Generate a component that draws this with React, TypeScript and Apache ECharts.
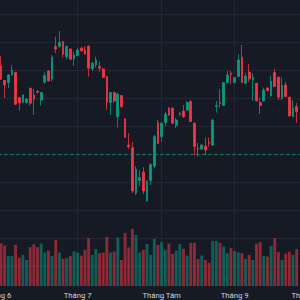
import React, { useEffect, useRef } from "react";
import * as echarts from "echarts";

// time slots on the category axis (slot 4 is the first visible session)
const slotCount = 92;
const firstCandleSlot = 4;
const monthSlots = [3, 25, 48, 68, 88];
const monthNames = ["Tháng 6", "Tháng 7", "Tháng Tám", "Tháng 9", "Tháng 10"];

// [open, close, low, high]
const candles: number[][] = [
  [240.2, 233.4, 233.0, 245.0],
  [232.7, 230.5, 224.0, 233.0],
  [231.7, 235.5, 228.9, 236.0],
  [235.5, 238.0, 235.2, 240.5],
  [236.9, 220.9, 220.5, 237.0],
  [224.2, 221.7, 217.7, 224.5],
  [221.7, 225.5, 221.5, 226.0],
  [221.7, 223.5, 221.2, 224.0],
  [228.9, 221.4, 220.2, 229.0],
  [225.5, 223.5, 215.5, 228.5],
  [227.3, 226.8, 226.5, 228.0],
  [223.0, 226.7, 220.2, 227.0],
  [231.9, 235.2, 231.0, 236.9],
  [237.5, 232.5, 232.3, 238.0],
  [233.5, 244.4, 232.2, 245.5],
  [249.7, 248.5, 246.4, 254.7],
  [249.9, 251.7, 249.0, 257.5],
  [252.2, 246.0, 244.2, 252.5],
  [244.7, 249.7, 243.5, 250.3],
  [248.5, 243.4, 243.0, 249.0],
  [243.5, 245.5, 240.0, 247.2],
  [245.2, 248.0, 245.0, 249.2],
  [248.9, 247.5, 247.2, 249.7],
  [248.0, 246.0, 245.5, 250.0],
  [250.0, 238.9, 234.7, 250.0],
  [238.5, 241.4, 237.5, 242.0],
  [240.5, 243.0, 239.2, 244.7],
  [239.7, 238.9, 237.2, 242.2],
  [238.5, 234.4, 234.0, 239.0],
  [234.7, 222.0, 218.0, 235.0],
  [221.7, 226.7, 215.5, 227.0],
  [226.7, 222.5, 221.5, 227.0],
  [214.7, 225.9, 209.2, 226.5],
  [225.2, 219.7, 219.0, 225.5],
  [213.5, 204.4, 204.0, 214.0],
  [200.5, 199.7, 198.5, 206.4],
  [199.2, 177.5, 176.5, 202.0],
  [176.4, 188.5, 175.5, 190.0],
  [182.7, 184.2, 180.0, 188.0],
  [187.0, 177.5, 176.0, 189.4],
  [172.5, 182.2, 172.3, 183.0],
  [182.7, 190.7, 180.5, 191.5],
  [190.0, 204.7, 188.9, 205.5],
  [211.7, 201.4, 201.0, 213.0],
  [204.7, 211.4, 202.2, 212.0],
  [211.7, 216.0, 210.0, 217.0],
  [218.9, 215.5, 215.0, 219.5],
  [218.9, 211.4, 211.0, 219.3],
  [210.2, 213.0, 209.0, 214.0],
  [215.8, 216.3, 215.0, 217.0],
  [217.5, 214.7, 214.0, 220.5],
  [218.0, 221.7, 217.5, 222.5],
  [222.2, 212.2, 212.0, 223.0],
  [211.4, 199.7, 195.5, 211.8],
  [198.9, 198.4, 194.7, 201.5],
  [198.4, 200.5, 198.0, 201.0],
  [200.0, 198.0, 195.5, 204.2],
  [201.9, 201.4, 199.7, 204.2],
  [200.5, 213.0, 200.0, 213.5],
  [219.7, 220.2, 216.7, 222.5],
  [221.7, 221.2, 219.2, 228.4],
  [220.2, 231.7, 220.0, 232.0],
  [231.7, 235.5, 231.5, 237.5],
  [236.4, 235.7, 230.9, 237.5],
  [231.7, 234.2, 231.5, 234.5],
  [234.7, 243.0, 234.5, 246.0],
  [244.4, 231.7, 231.5, 250.5],
  [231.4, 235.0, 231.0, 236.5],
  [237.0, 233.5, 232.0, 241.0],
  [233.0, 234.4, 222.5, 236.5],
  [231.4, 222.5, 222.3, 231.5],
  [221.7, 220.2, 216.0, 224.2],
  [222.5, 228.0, 222.3, 229.2],
  [229.0, 227.7, 227.3, 229.5],
  [225.0, 232.4, 224.8, 235.2],
  [236.7, 229.7, 229.5, 238.5],
  [234.4, 224.4, 223.0, 234.7],
  [223.9, 230.2, 223.0, 234.4],
  [230.5, 224.7, 224.5, 232.0],
  [224.4, 215.0, 214.8, 224.5],
  [214.7, 218.9, 214.4, 223.0],
  [219.7, 217.2, 211.5, 221.5],
];

const volumes: number[] = [
  42.7, 40.3, 30, 30, 41, 28.3, 31, 26, 38.7, 41.7, 38.7, 42.3, 33.3, 35.3,
  30, 46, 33.3, 27, 27.7, 30, 34.3, 33.3, 30.3, 36, 47.7, 31, 37, 32.7,
  33.3, 48.7, 33.3, 34.3, 48.3, 26, 52.7, 38.3, 57, 51, 33.3, 36, 42, 31,
  47, 41, 43.7, 36, 42.3, 32, 35.3, 41.7, 37, 30.3, 43, 43, 27,
  30.3, 26, 23.3, 45, 45, 43, 39.3, 32.7, 37.7, 35, 33.7, 32.7, 27, 31,
  26, 42, 43.7, 30, 29.3, 40, 47.7, 33.7, 26, 32, 34.3, 31, 36.7,
];

const priceLine = 195.9;

const UP = "#089981";
const DOWN = "#f23645";
const UP_VOL = "rgba(8,153,129,0.55)";
const DOWN_VOL = "rgba(242,54,69,0.55)";
const BG = "#161a25";
const GRID = "#232733";

export default function App() {
  const ref = useRef<HTMLDivElement>(null);

  useEffect(() => {
    if (!ref.current) return;
    const chart = echarts.init(ref.current, null, { renderer: "svg" });
    const slots = Array.from({ length: slotCount }, (_, i) => String(i));
    const candleData = slots.map((_, i) => {
      const j = i - firstCandleSlot;
      return j >= 0 && j < candles.length ? candles[j] : "-";
    });
    const volData = slots.map((_, i) => {
      const j = i - firstCandleSlot;
      if (j < 0 || j >= candles.length) return "-";
      const up = candles[j][1] >= candles[j][0];
      return { value: volumes[j], itemStyle: { color: up ? UP_VOL : DOWN_VOL } };
    });
    const volMax = Math.max(...volumes) / 0.2;

    chart.setOption({
      animation: false,
      backgroundColor: BG,
      grid: [
        { left: -13.6, right: -18.55, top: -14, bottom: 34, outerBoundsMode: "none", containLabel: false },
        { left: -13.6, right: -18.55, top: 0, bottom: 14, outerBoundsMode: "none", containLabel: false },
      ],
      xAxis: [
        {
          type: "category",
          gridIndex: 0,
          data: slots,
          boundaryGap: false,
          axisLine: { show: false },
          axisTick: { show: false },
          axisLabel: { show: false },
          splitLine: { show: false },
        },
        {
          type: "category",
          gridIndex: 1,
          data: slots,
          boundaryGap: false,
          axisLine: { show: false },
          axisTick: { show: false },
          axisLabel: {
            show: true,
            interval: (i: number) => monthSlots.includes(i),
            formatter: (_v: string, i: number) => monthNames[monthSlots.indexOf(i)] ?? "",
            color: "#d1d4dc",
            fontSize: 7.7,
            fontFamily: "Roboto, sans-serif",
            margin: 5,
          },
          splitLine: {
            show: true,
            interval: (i: number) => monthSlots.includes(i),
            lineStyle: { color: GRID, width: 1 },
          },
        },
      ],
      yAxis: [
        {
          type: "value",
          gridIndex: 0,
          min: 140,
          max: 280,
          interval: 14,
          axisLine: { show: false },
          axisTick: { show: false },
          axisLabel: { show: false },
          splitLine: { show: true, lineStyle: { color: GRID, width: 1 } },
        },
        {
          type: "value",
          gridIndex: 1,
          min: 0,
          max: volMax,
          axisLine: { show: false },
          axisTick: { show: false },
          axisLabel: { show: false },
          splitLine: { show: false },
        },
      ],
      series: [
        {
          type: "bar",
          xAxisIndex: 1,
          yAxisIndex: 1,
          data: volData,
          barWidth: 2.9,
          z: 1,
        },
        {
          type: "candlestick",
          xAxisIndex: 0,
          yAxisIndex: 0,
          data: candleData,
          barWidth: 2.2,
          z: 3,
          itemStyle: {
            color: UP,
            color0: DOWN,
            borderColor: UP,
            borderColor0: DOWN,
            borderWidth: 0.8,
          },
          markLine: {
            silent: true,
            symbol: ["none", "none"],
            label: { show: false },
            lineStyle: { color: "#178472", type: [3, 3], width: 1 },
            data: [{ yAxis: priceLine }],
          },
        },
      ],
    });
    return () => chart.dispose();
  }, []);

  return (
    <div
      ref={ref}
      style={{ position: "fixed", left: 0, top: 0, width: 300, height: 300, background: BG }}
    />
  );
}
